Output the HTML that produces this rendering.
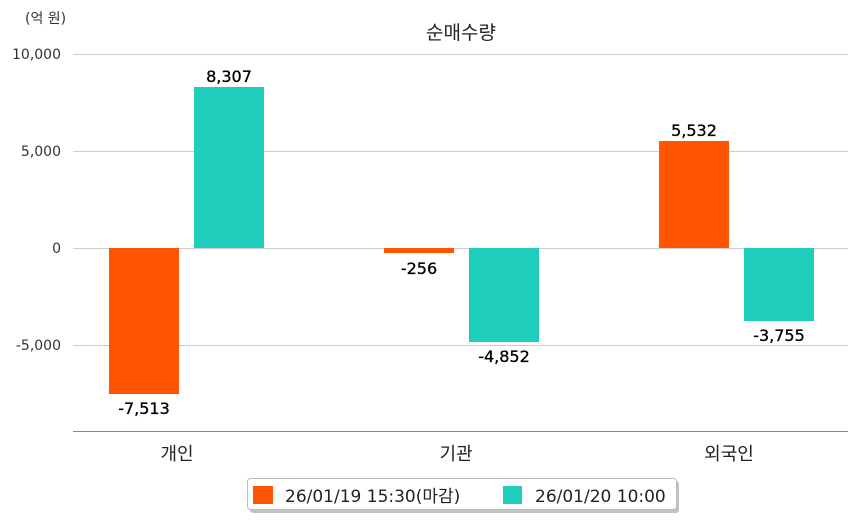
<!DOCTYPE html>
<html><head><meta charset="utf-8"><style>
html,body{margin:0;padding:0;background:#fff;}
svg{display:block;font-family:"DejaVu Sans","Noto Sans CJK KR",sans-serif;}
</style></head><body>
<svg width="858" height="520" xmlns="http://www.w3.org/2000/svg">
<text x="25" y="23" font-size="14" fill="#333">(억 원)</text>
<text x="461" y="39" font-size="19" fill="#222" text-anchor="middle">순매수량</text>
<g stroke="#cccccc" stroke-width="1">
<line x1="73" y1="54.5" x2="848" y2="54.5"/>
<line x1="73" y1="151.5" x2="848" y2="151.5"/>
<line x1="73" y1="248.5" x2="848" y2="248.5"/>
<line x1="73" y1="345.5" x2="848" y2="345.5"/>
</g>
<line x1="73" y1="431.5" x2="848" y2="431.5" stroke="#888" stroke-width="1"/>
<g font-size="14" fill="#333" text-anchor="end">
<text x="61" y="59">10,000</text>
<text x="61" y="156">5,000</text>
<text x="61" y="253">0</text>
<text x="61" y="350">-5,000</text>
</g>
<rect x="109" y="248" width="70" height="146" fill="#ff5400"/>
<rect x="194" y="87" width="70" height="161" fill="#1fcdbd"/>
<rect x="384" y="248" width="70" height="5" fill="#ff5400"/>
<rect x="469" y="248" width="70" height="94" fill="#1fcdbd"/>
<rect x="659" y="141" width="70" height="107" fill="#ff5400"/>
<rect x="744" y="248" width="70" height="73" fill="#1fcdbd"/>
<g font-size="16" fill="#000" text-anchor="middle" stroke="#000" stroke-width="0.3">
<text x="144" y="414">-7,513</text>
<text x="229" y="82">8,307</text>
<text x="419" y="274">-256</text>
<text x="504" y="362">-4,852</text>
<text x="694" y="136">5,532</text>
<text x="779" y="341">-3,755</text>
</g>
<g font-size="18" fill="#222" text-anchor="middle">
<text x="177" y="460">개인</text>
<text x="456" y="460">기관</text>
<text x="729" y="460">외국인</text>
</g>
<rect x="250" y="481" width="429" height="32" rx="3" fill="#999" opacity="0.6"/>
<rect x="247.5" y="478.5" width="429" height="31" rx="3" fill="#fff" stroke="#bbb"/>
<rect x="253" y="486" width="20" height="18" fill="#ff5400"/>
<text x="285" y="502" font-size="17" fill="#222">26/01/19 15:30(마감)</text>
<rect x="503" y="486" width="19" height="18" fill="#1fcdbd"/>
<text x="535" y="502" font-size="17" fill="#222">26/01/20 10:00</text>
</svg>
</body></html>
